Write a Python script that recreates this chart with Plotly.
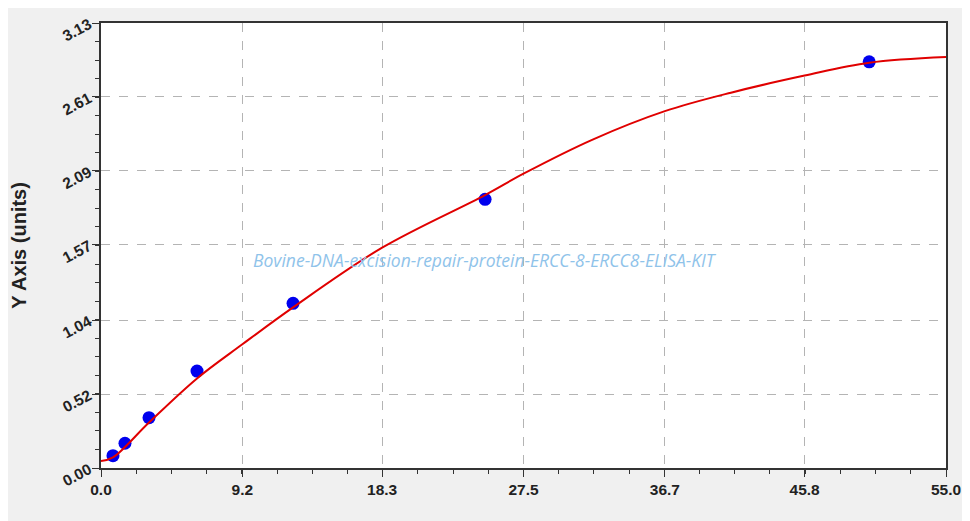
import plotly.graph_objects as go

# standard points
conc = [0.78, 1.56, 3.125, 6.25, 12.5, 25, 50]
od = [0.087, 0.174, 0.354, 0.682, 1.158, 1.89, 2.857]

# fitted curve
curve_x = [0, 0.78, 3.125, 6.25, 9.2, 12.5, 18.3, 25, 27.5, 32, 36.7, 41, 45.8, 50, 55]
curve_y = [0.05, 0.075, 0.32, 0.63, 0.87, 1.13, 1.55, 1.92, 2.07, 2.31, 2.51, 2.64, 2.76, 2.85, 2.89]

x_ticks = [0.0, 9.2, 18.3, 27.5, 36.7, 45.8, 55.0]
y_ticks = [0.00, 0.52, 1.04, 1.57, 2.09, 2.61, 3.13]

fig = go.Figure()
fig.add_trace(go.Scatter(x=conc, y=od, mode="markers",
                         marker=dict(color="#0000ee", size=13), showlegend=False))
fig.add_trace(go.Scatter(x=curve_x, y=curve_y, mode="lines", line_shape="spline",
                         line=dict(color="#e00000", width=2), showlegend=False))

tick_font = dict(family="Arial, Liberation Sans", size=15.5, color="#222222")

fig.update_xaxes(
    range=[0, 55], tickvals=x_ticks, ticktext=[f"<b>{v:.1f}</b>" for v in x_ticks],
    tickfont=tick_font, ticks="outside", ticklen=7, tickcolor="#333",
    showline=True, linecolor="#333", linewidth=1.5, mirror=True,
    showgrid=True, gridcolor="#b4b4b4", griddash="dash", gridwidth=1,
    zeroline=False, automargin=False,
    minor=dict(ticks="outside", ticklen=4, dtick=55 / 24, tick0=0, tickcolor="#333", showgrid=False),
)
fig.update_yaxes(
    range=[0, 3.13], tickvals=y_ticks, ticktext=[f"<b>{v:.2f}</b>" for v in y_ticks],
    tickfont=tick_font, tickangle=-28, ticks="outside", ticklen=7, tickcolor="#333",
    showline=True, linecolor="#333", linewidth=1.5, mirror=True,
    showgrid=True, gridcolor="#b4b4b4", griddash="dash", gridwidth=1,
    zeroline=False, automargin=False,
    title=dict(text="<b>Y Axis (units)</b>", font=dict(family="Arial, Liberation Sans", size=20, color="#222"),
               standoff=28),
    minor=dict(ticks="outside", ticklen=4, dtick=3.13 / 24, tick0=0, tickcolor="#333", showgrid=False),
)

fig.add_annotation(
    text="Bovine-DNA-excision-repair-protein-ERCC-8-ERCC8-ELISA-KIT",
    x=0.454, y=0.468, xref="paper", yref="paper", showarrow=False,
    font=dict(family="Open Sans, DejaVu Sans", size=17.5, color="#8fc3ea"),
)
fig.update_annotations(font_style="italic")

# page body has an 8px margin, so the figure is sized/offset to fit the window
fig.update_layout(
    width=962, height=513,
    paper_bgcolor="#f0f0f0", plot_bgcolor="white",
    margin=dict(l=93, r=24, t=15, b=53),
)

fig.write_html("out.html")
